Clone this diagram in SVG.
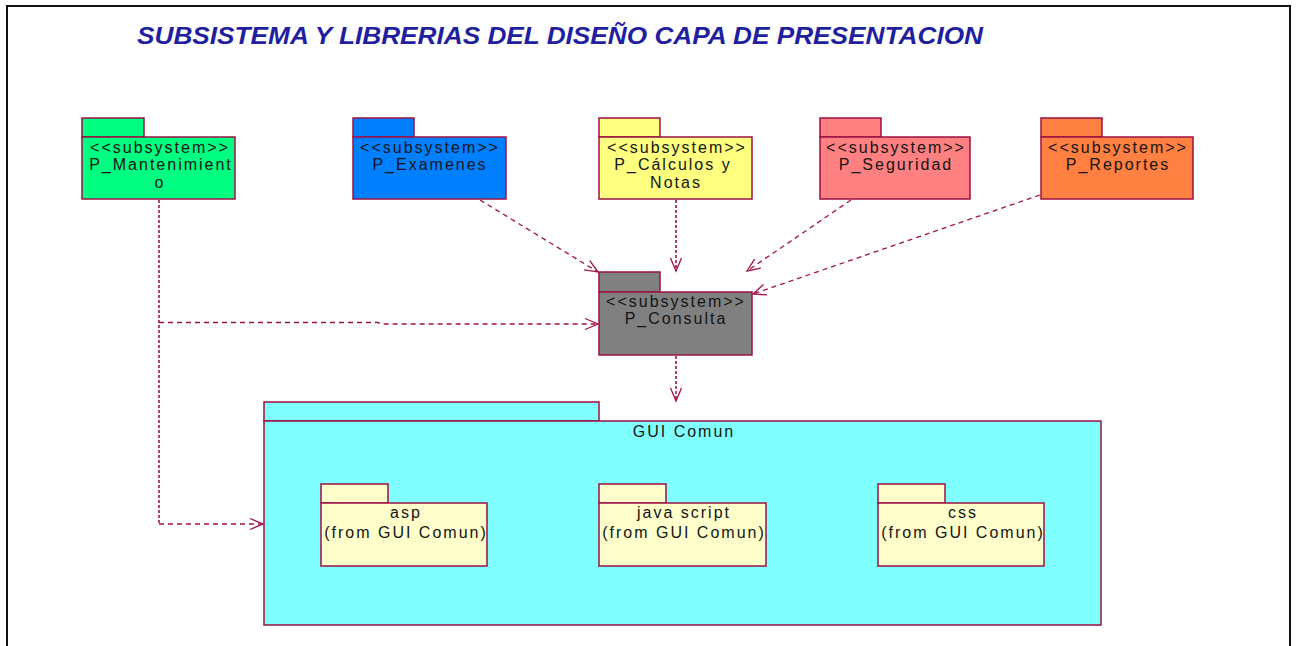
<svg xmlns="http://www.w3.org/2000/svg" width="1297" height="646" viewBox="0 0 1297 646">
  <defs>
    <marker id="open" markerUnits="userSpaceOnUse" markerWidth="16" markerHeight="14" viewBox="0 0 16 14" refX="14" refY="7" orient="auto">
      <path d="M1,1.5 L14,7 L1,12.5" fill="none" stroke="#a0134a" stroke-width="1.3" stroke-dasharray="none"/>
    </marker>
  </defs>
  <style>
    .pk { stroke: #9b1044; stroke-width: 1.5; }
    .t { font-family: "Liberation Sans", Arial, sans-serif; font-size: 16px; letter-spacing: 2px; fill: #141414; text-anchor: middle; }
    .dep { fill: none; stroke: #a0134a; stroke-width: 1.3; stroke-dasharray: 5 4; }
    .dot { fill: none; stroke: #a0134a; stroke-width: 1.6; stroke-dasharray: 3 2; }
  </style>
  <rect x="0" y="0" width="1297" height="646" fill="#ffffff"/>
  <path d="M7,660 V6 H1290 V660" fill="none" stroke="#111111" stroke-width="2"/>
  <text x="137" y="44" textLength="846" lengthAdjust="spacingAndGlyphs" font-family="'Liberation Sans', Arial, sans-serif" font-size="23" font-weight="bold" font-style="italic" fill="#1f1fa0">SUBSISTEMA Y LIBRERIAS DEL DISEÑO CAPA DE PRESENTACION</text>

  <g id="P_Mantenimiento">
    <rect class="pk" x="82" y="118" width="62" height="19" fill="#00ff80"/>
    <rect class="pk" x="82" y="137" width="153" height="62" fill="#00ff80"/>
    <text class="t" x="160" y="153">&lt;&lt;subsystem&gt;&gt;</text>
    <text class="t" x="161" y="170">P_Mantenimient</text>
    <text class="t" x="160" y="188">o</text>
  </g>
  <g id="P_Examenes">
    <rect class="pk" x="353" y="118" width="61" height="19" fill="#0080ff"/>
    <rect class="pk" x="353" y="137" width="153" height="62" fill="#0080ff"/>
    <text class="t" x="430" y="153">&lt;&lt;subsystem&gt;&gt;</text>
    <text class="t" x="430" y="170">P_Examenes</text>
  </g>
  <g id="P_Calculos">
    <rect class="pk" x="599" y="118" width="61" height="19" fill="#ffff80"/>
    <rect class="pk" x="599" y="137" width="153" height="62" fill="#ffff80"/>
    <text class="t" x="677" y="153">&lt;&lt;subsystem&gt;&gt;</text>
    <text class="t" x="673" y="170">P_Cálculos y</text>
    <text class="t" x="676" y="188">Notas</text>
  </g>
  <g id="P_Seguridad">
    <rect class="pk" x="820" y="118" width="61" height="19" fill="#ff8080"/>
    <rect class="pk" x="820" y="137" width="150" height="62" fill="#ff8080"/>
    <text class="t" x="896" y="153">&lt;&lt;subsystem&gt;&gt;</text>
    <text class="t" x="896" y="170">P_Seguridad</text>
  </g>
  <g id="P_Reportes">
    <rect class="pk" x="1041" y="118" width="61" height="19" fill="#ff8040"/>
    <rect class="pk" x="1041" y="137" width="152" height="62" fill="#ff8040"/>
    <text class="t" x="1118" y="153">&lt;&lt;subsystem&gt;&gt;</text>
    <text class="t" x="1118" y="170">P_Reportes</text>
  </g>
  <g id="P_Consulta">
    <rect class="pk" x="599" y="272" width="61" height="20" fill="#808080"/>
    <rect class="pk" x="599" y="292" width="153" height="63" fill="#808080"/>
    <text class="t" x="676" y="307">&lt;&lt;subsystem&gt;&gt;</text>
    <text class="t" x="676" y="324">P_Consulta</text>
  </g>
  <g id="GUI_Comun">
    <rect class="pk" x="264" y="402" width="335" height="19" fill="#80ffff"/>
    <rect class="pk" x="264" y="421" width="837" height="204" fill="#80ffff"/>
    <text class="t" x="684" y="437">GUI Comun</text>
  </g>
  <g id="asp">
    <rect class="pk" x="321" y="484" width="67" height="19" fill="#ffffcc"/>
    <rect class="pk" x="321" y="503" width="166" height="63" fill="#ffffcc"/>
    <text class="t" x="406" y="518">asp</text>
    <text class="t" x="406" y="538">(from GUI Comun)</text>
  </g>
  <g id="java_script">
    <rect class="pk" x="599" y="484" width="67" height="19" fill="#ffffcc"/>
    <rect class="pk" x="599" y="503" width="167" height="63" fill="#ffffcc"/>
    <text class="t" x="684" y="518">java script</text>
    <text class="t" x="684" y="538">(from GUI Comun)</text>
  </g>
  <g id="css">
    <rect class="pk" x="878" y="484" width="67" height="19" fill="#ffffcc"/>
    <rect class="pk" x="878" y="503" width="166" height="63" fill="#ffffcc"/>
    <text class="t" x="963" y="518">css</text>
    <text class="t" x="963" y="538">(from GUI Comun)</text>
  </g>

  <g id="connectors">
    <path class="dep" d="M480,200 L598,272" marker-end="url(#open)"/>
    <path class="dot" d="M676,200 L676,271" marker-end="url(#open)"/>
    <path class="dep" d="M851,200 L747,271" marker-end="url(#open)"/>
    <path class="dep" d="M1040,195 L753,294" marker-end="url(#open)"/>
    <path class="dot" d="M676,356 L676,401" marker-end="url(#open)"/>
    <path class="dot" d="M159,200 L159,524"/>
    <path class="dep" d="M159,524 L263,524" marker-end="url(#open)"/>
    <path class="dep" d="M159,322.5 L378,322.5 L381,324 L598,324" marker-end="url(#open)"/>
  </g>
</svg>
